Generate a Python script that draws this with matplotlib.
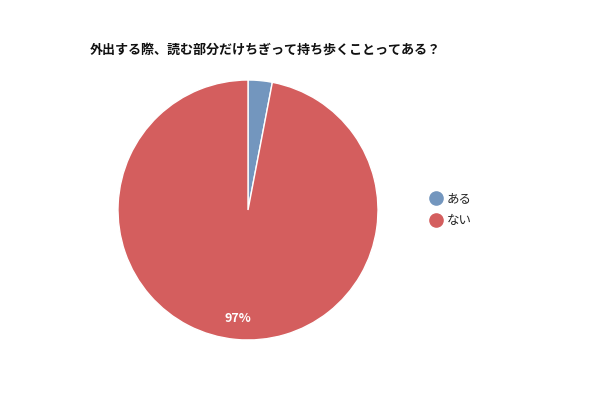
import matplotlib
matplotlib.use("Agg")
import matplotlib.pyplot as plt
from matplotlib.lines import Line2D

plt.rcParams['font.family'] = ['Noto Sans CJK JP', 'DejaVu Sans']

title = "外出する際、読む部分だけちぎって持ち歩くことってある？"
labels = ["ある", "ない"]
values = [3, 97]
colors = ["#7396be", "#d45e5e"]

fig = plt.figure(figsize=(6, 4), dpi=100)
W, H = 600, 400
cx, cy, r = 248, 210, 130
ax = fig.add_axes([(cx - r) / W, 1 - (cy + r) / H, 2 * r / W, 2 * r / H])

def fmt(p):
    return f"{p:.0f}%" if p >= 5 else ""

wedges, texts, autotexts = ax.pie(
    values, colors=colors, startangle=90, counterclock=False,
    autopct=fmt, pctdistance=0.84,
    wedgeprops=dict(edgecolor="white", linewidth=1),
    textprops=dict(color="white", fontsize=9, fontweight="bold"))
ax.set_aspect("equal")
ax.set_xlim(-1, 1)
ax.set_ylim(-1, 1)

fig.text(90 / W, 1 - 50 / H, title, fontsize=9.4, fontweight="bold",
         ha="left", va="center", color="#111111")

handles = [Line2D([0], [0], marker='o', linestyle='', markersize=9.5,
                  markerfacecolor=c, markeredgecolor=c) for c in colors]
fig.legend(handles, labels, loc="upper left",
           bbox_to_anchor=(423 / W, 1 - 187 / H), frameon=False,
           fontsize=9, handletextpad=0.3, labelspacing=0.75,
           handlelength=1.2, borderaxespad=0, labelcolor="#222222")

fig.savefig("out.png", dpi=100, facecolor="white")
